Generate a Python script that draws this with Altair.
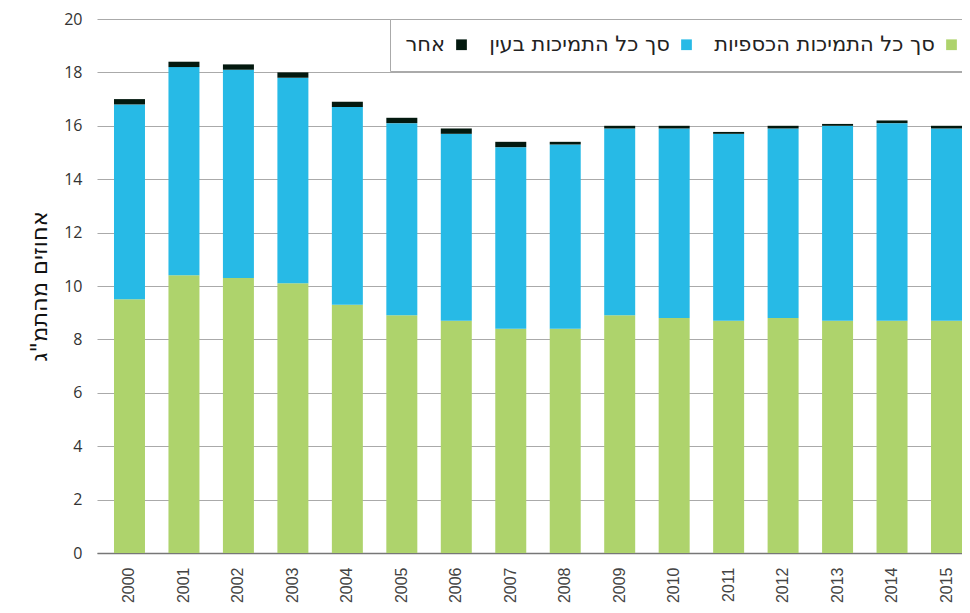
import altair as alt
import pandas as pd

years = [str(y) for y in range(2000, 2016)]
cash = [9.5, 10.4, 10.3, 10.1, 9.3, 8.9, 8.7, 8.4, 8.4, 8.9, 8.8, 8.7, 8.8, 8.7, 8.7, 8.7]
inkind = [7.3, 7.8, 7.8, 7.7, 7.4, 7.2, 7.0, 6.8, 6.9, 7.0, 7.1, 7.0, 7.1, 7.3, 7.4, 7.2]
other = [0.2, 0.2, 0.2, 0.2, 0.2, 0.2, 0.2, 0.2, 0.1, 0.1, 0.1, 0.07, 0.1, 0.07, 0.1, 0.1]

series_names = ["סך כל התמיכות הכספיות", "סך כל התמיכות בעין", "אחר"]
series_colors = ["#AED36C", "#27BAE6", "#03190F"]
tick_values = [0, 2, 4, 6, 8, 10, 12, 14, 16, 18, 20]

rows = []
for i, y in enumerate(years):
    for k, (name, vals) in enumerate(zip(series_names, [cash, inkind, other])):
        rows.append({"year": y, "series": name, "value": vals[i], "order": k})
df = pd.DataFrame(rows)

legend_domain = series_names[::-1]
legend_range = series_colors[::-1]

chart = alt.Chart(df).mark_bar().encode(
    x=alt.X("year:N", sort=years,
            scale=alt.Scale(paddingInner=0.431, paddingOuter=0.156, align=1.0),
            axis=alt.Axis(title=None, labelAngle=-90, ticks=False, grid=False,
                          domainColor="#777777", domainWidth=1.5,
                          labelPadding=14, labelFont="Liberation Sans",
                          labelFontSize=16, labelColor="#444444")),
    y=alt.Y("value:Q", stack="zero",
            scale=alt.Scale(domain=[0, 20], nice=False),
            axis=alt.Axis(values=tick_values, title="אחוזים מהתמ\"ג",
                          ticks=False, domain=False, grid=True,
                          gridColor="#aaaaaa", gridWidth=1.2,
                          labelPadding=15, labelFont="Open Sans",
                          labelFontSize=16, labelColor="#333333",
                          titleFont="DejaVu Sans", titleFontSize=22.5,
                          titleFontWeight="normal", titleColor="#111111",
                          titlePadding=12)),
    color=alt.Color("series:N",
                    scale=alt.Scale(domain=legend_domain, range=legend_range),
                    legend=alt.Legend(orient="none", legendX=293, legendY=0,
                                      direction="horizontal", columns=3,
                                      title="\u00a0", titleOrient="left",
                                      titleFontSize=23, titlePadding=46,
                                      labelFontSize=21,
                                      labelFont="DejaVu Sans", labelColor="#222222",
                                      symbolType="square", symbolSize=115,
                                      symbolStrokeWidth=0, labelAlign="right",
                                      labelOffset={"expr": "-27"}, columnPadding=22,
                                      padding=15, strokeColor="#aaaaaa",
                                      fillColor="white", labelLimit=400)),
    order=alt.Order("order:Q", sort="ascending"),
).properties(
    width=865, height=534,
    autosize=alt.AutoSizeParams(type="none"),
    padding={"left": 89, "top": 11, "right": 0, "bottom": 50},
).configure_view(stroke=None)

chart.save("out.html", embed_options={"renderer": "svg", "actions": False})
